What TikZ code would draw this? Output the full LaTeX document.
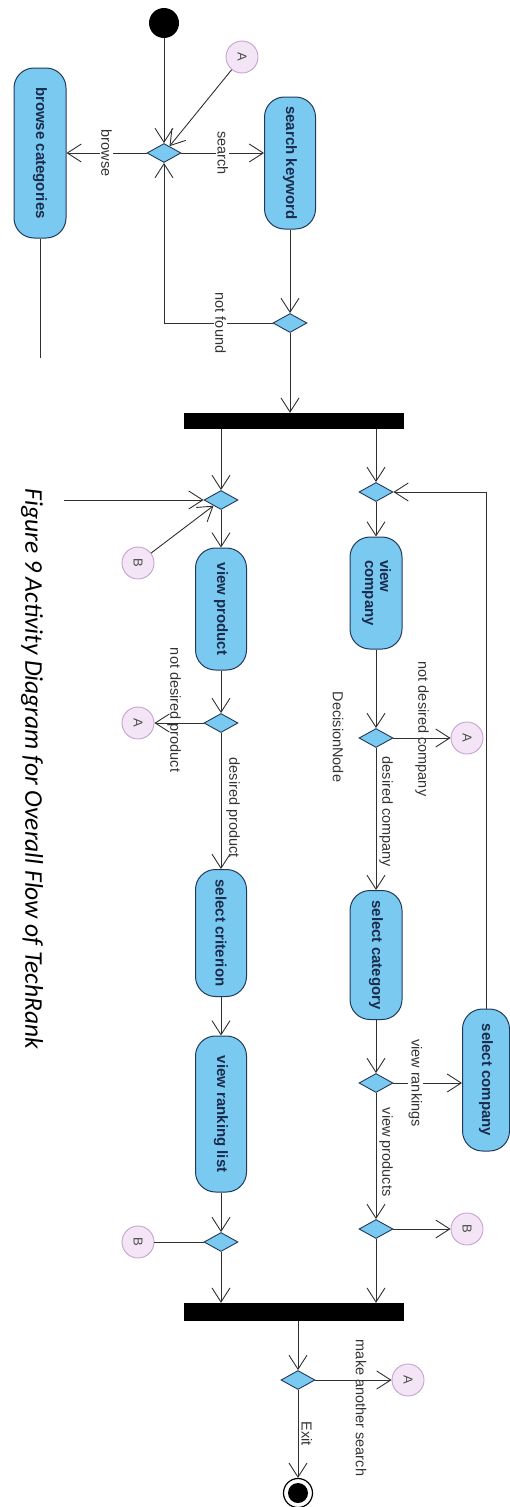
\documentclass[tikz,border=0pt]{standalone}
\usepackage{graphicx}
\usepackage{fontspec}
\setmainfont{Liberation Sans}
\newfontfamily\capfont{Carlito}
\usetikzlibrary{arrows.meta,shapes.geometric}

\definecolor{actfill}{HTML}{79C9F0}
\definecolor{actline}{HTML}{23395B}
\definecolor{acttext}{HTML}{1B2B4B}
\definecolor{conFill}{HTML}{F3E5F6}
\definecolor{conLine}{HTML}{C6A2D2}
\definecolor{flowline}{HTML}{303030}

% all texts of the activity diagram run top to bottom
\newcommand{\vtext}[1]{\rotatebox{-90}{#1}}

\tikzset{
  activity/.style={draw=actline, line width=1pt, fill=actfill, rounded corners=20pt,
    inner sep=0pt, font=\fontsize{15}{17}\selectfont\bfseries, text=acttext},
  decision/.style={diamond, draw=actline, line width=0.9pt, fill=actfill, inner sep=0pt,
    minimum width=34pt, minimum height=19pt},
  connector/.style={circle, draw=conLine, line width=0.9pt, fill=conFill, minimum size=32pt,
    inner sep=0pt, font=\fontsize{13}{15}\selectfont, text=black!70},
  bar/.style={fill=black, inner sep=0pt},
  flow/.style={draw=flowline, line width=0.9pt, -{Straight Barb[length=14pt,width=18pt]}},
  plain/.style={draw=flowline, line width=0.9pt},
  guard/.style={font=\fontsize{14.5}{17}\selectfont, text=black!80, inner sep=1pt},
  guardw/.style={guard, fill=white},
  initialnode/.style={circle, fill=black, minimum size=30pt, inner sep=0pt},
  finalnode/.style={circle, draw=black, line width=1.2pt, fill=white, minimum size=29pt, inner sep=0pt,
    path picture={\fill[black] (path picture bounding box.center) circle (10pt);}},
}

\begin{document}
\begin{tikzpicture}[x=1pt,y=-1pt]
\useasboundingbox (0,0) rectangle (509,1507);

% ---------- search / browse part ----------
\node[initialnode] (start) at (164,23) {};
\node[decision] (d1) at (164,153) {};
\node[connector] (A1) at (242,57) {\vtext{A}};
\node[activity, minimum width=52pt, minimum height=170pt] (browse) at (40,153) {\vtext{browse categories}};
\node[activity, minimum width=51pt, minimum height=132pt] (search) at (290,163) {\vtext{search keyword}};
\node[decision] (d2) at (290,323) {};
\coordinate (browseEnd) at (40,358);
\coordinate (browseIn) at (64,500);

% ---------- fork ----------
\node[bar, minimum width=220pt, minimum height=16pt] (fork1) at (294,421) {};

% ---------- product lane ----------
\node[decision] (d3) at (221,500) {};
\node[connector] (B1) at (138,563) {\vtext{B}};
\node[activity, minimum width=51pt, minimum height=122pt] (vp) at (221,609) {\vtext{view product}};
\node[decision] (d5) at (221,723) {};
\node[connector] (A2) at (138,723) {\vtext{A}};
\node[activity, minimum width=51pt, minimum height=127pt] (crit) at (221,933) {\vtext{select criterion}};
\node[activity, minimum width=51pt, minimum height=156pt] (rank) at (221,1114) {\vtext{view ranking list}};
\node[decision] (d7) at (221,1242) {};
\node[connector] (B3) at (138,1242) {\vtext{B}};

% ---------- company lane ----------
\node[decision] (d4) at (376,492) {};
\node[activity, minimum width=52pt, minimum height=112pt] (vc) at (376,593)
  {\vtext{\begin{tabular}{@{}l@{}}view\\[-2pt]company\end{tabular}}};
\node[decision] (d6) at (376,738) {};
\node[guard] (dnName) at (338,737) {\vtext{DecisionNode}};
\node[connector] (A3) at (467,738) {\vtext{A}};
\node[activity, minimum width=52pt, minimum height=129pt] (cat) at (376,955) {\vtext{select category}};
\node[decision] (d8) at (376,1083) {};
\node[activity, minimum width=47pt, minimum height=142pt] (comp) at (486,1080) {\vtext{select company}};
\node[decision] (d9) at (376,1229) {};
\node[connector] (B2) at (467,1229) {\vtext{B}};

% ---------- join and end ----------
\node[bar, minimum width=220pt, minimum height=18pt] (join) at (294,1312) {};
\node[decision] (d10) at (298,1380) {};
\node[connector] (A4) at (408,1380) {\vtext{A}};
\node[finalnode] (end) at (298,1493) {};

% caption
\node[font=\capfont\itshape\fontsize{25.5}{30}\selectfont] (caption) at (32,769)
  {\vtext{Figure 9 Activity Diagram for Overall Flow of TechRank}};

% ---------- flows ----------
\draw[flow] (start) -- (d1.north);
\draw[flow] (A1) -- (d1);
\draw[flow] (d1.west) -- node[guardw, pos=0.5] {\vtext{browse}} (browse.east |- d1);
\draw[flow] (d1.east) -- node[guardw, pos=0.5] {\vtext{search}} (search.west |- d1);
\draw[flow] (search.south) -- (d2.north);
\draw[flow] (d2.west) -| node[guardw, pos=0.24] {\vtext{not found}} (d1.south);
\draw[plain] (browse.south) -- (browseEnd);
\draw[flow] (d2.south) -- (d2.south |- fork1.north);

\draw[flow] (fork1.south -| d3) -- (d3.north);
\draw[flow] (fork1.south -| d4) -- (d4.north);
\draw[flow] (browseIn) -- (d3.west);
\draw[flow] (B1) -- (d3);
\draw[flow] (d3.south) -- (vp.north);
\draw[flow] (vp.south) -- (d5.north);
\draw[flow] (d5.west) -- node[guard, pos=0.6, yshift=13pt] {\vtext{not desired product}} (A2.east);
\draw[flow] (d5.south) -- node[guard, pos=0.55, anchor=west, xshift=4pt] {\vtext{desired product}} (crit.north);
\draw[flow] (crit.south) -- (rank.north);
\draw[flow] (rank.south) -- (d7.north);
\draw[plain] (B3.east) -- (d7.west);
\draw[flow] (d7.south) -- (d7.south |- join.north);

\draw[flow] (d4.south) -- (vc.north);
\draw[flow] (vc.south) -- (d6.north);
\draw[flow] (d6.east) -- node[guard, pos=0.5, yshift=9pt] {\vtext{not desired company}} (A3.west);
\draw[flow] (d6.south) -- node[guard, pos=0.45, anchor=west, xshift=2pt] {\vtext{desired company}} (cat.north);
\draw[flow] (cat.south) -- (d8.north);
\draw[flow] (d8.east) -- node[guardw, pos=0.32] {\vtext{view rankings}} (comp.west |- d8);
\draw[flow] (comp.north) |- (d4.east);
\draw[flow] (d8.south) -- node[guard, pos=0.47, anchor=west, xshift=2pt] {\vtext{view products}} (d9.north);
\draw[flow] (d9.east) -- (B2.west);
\draw[flow] (d9.south) -- (d9.south |- join.north);

\draw[flow] (join.south -| d10) -- (d10.north);
\draw[flow] (d10.east) -- node[guard, pos=0.6, yshift=-28pt] {\vtext{make another search}} (A4.west);
\draw[flow] (d10.south) -- node[guard, pos=0.5, anchor=west, xshift=2pt] {\vtext{Exit}} (end.north);

\end{tikzpicture}
\end{document}
